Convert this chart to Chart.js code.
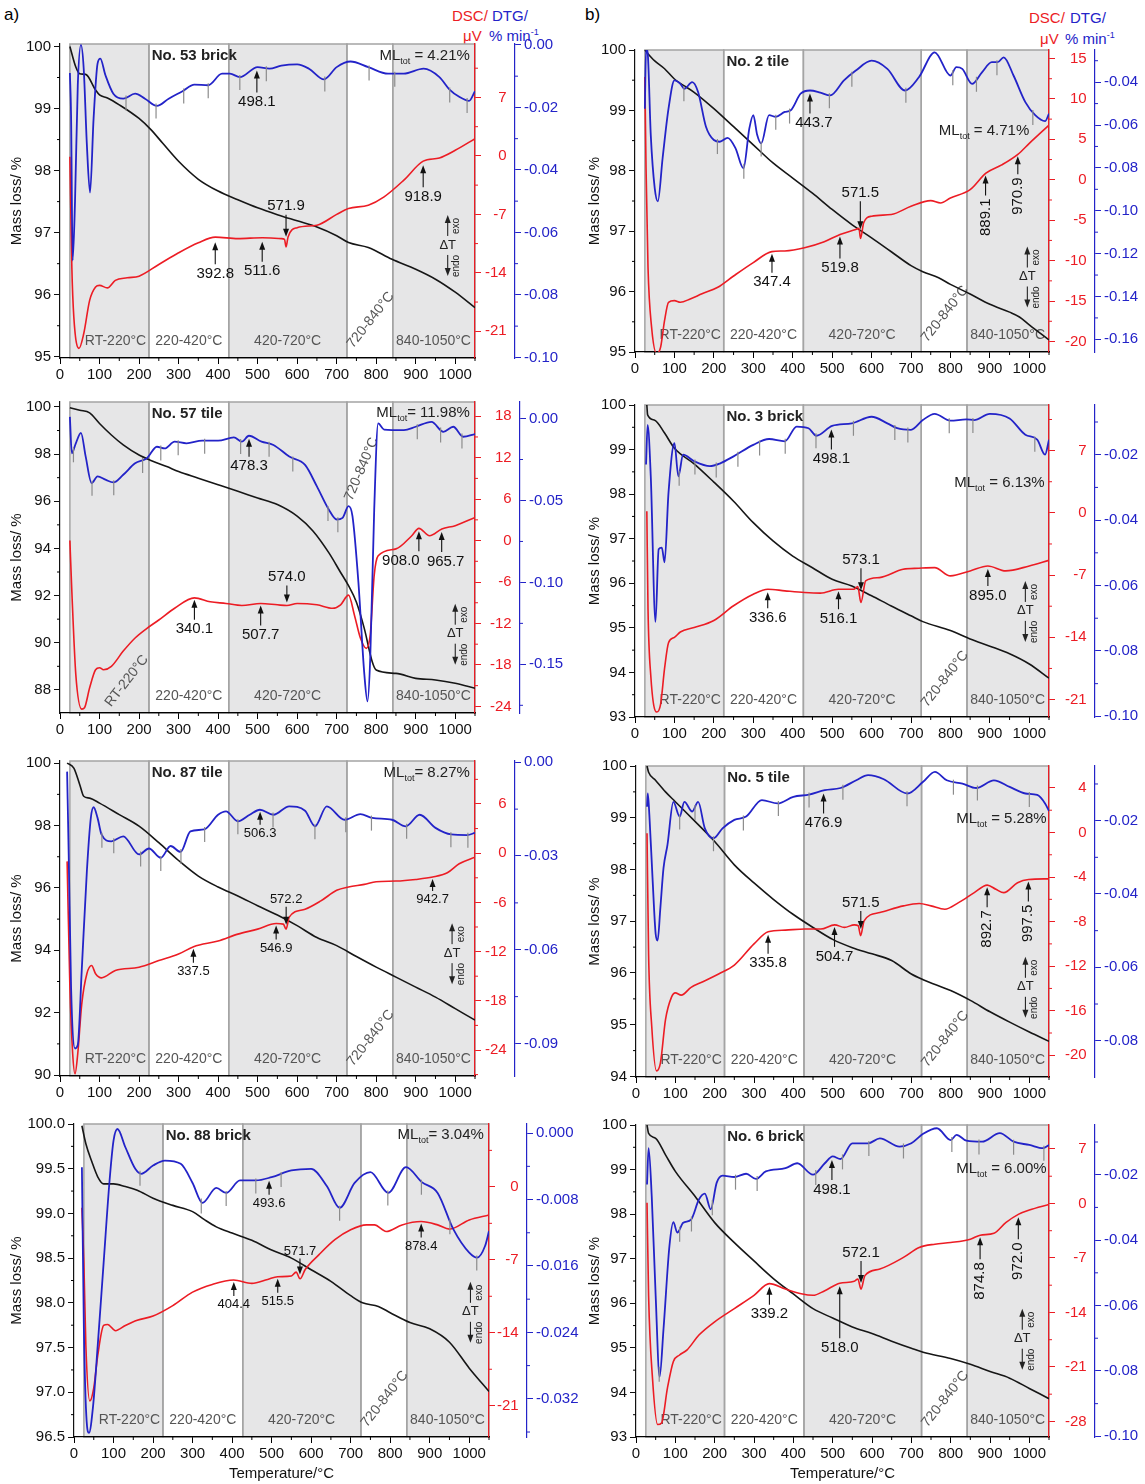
<!DOCTYPE html>
<html>
<head>
<meta charset="utf-8">
<title>TG / DSC / DTG curves</title>
<script src="https://cdn.jsdelivr.net/npm/chart.js@4.4.1/dist/chart.umd.min.js"></script>
<style>
  body { margin: 0; background: #fff; }
  #page { position: relative; width: 1145px; height: 1484px; overflow: hidden; font-family: 'Liberation Sans', Arial, sans-serif; }
  #page canvas { position: absolute; }
  .lbl { position: absolute; font-size: 15px; line-height: 15px; white-space: nowrap; }
  .lbl sup { font-size: 9px; line-height: 0; vertical-align: 6px; }
  .red { color: #ec1c24; }
  .blue { color: #2323c8; }
</style>
</head>
<body>
<div id="page">
  <div class="lbl" style="left:4px;top:6px;font-size:17px;line-height:17px">a)</div>
  <div class="lbl" style="left:585px;top:6px;font-size:17px;line-height:17px">b)</div>
  <div class="lbl red" style="left:452px;top:8px">DSC/</div>
  <div class="lbl blue" style="left:492px;top:8px">DTG/</div>
  <div class="lbl red" style="left:463px;top:28px">μV</div>
  <div class="lbl blue" style="left:489px;top:28px">% min<sup>-1</sup></div>
  <div class="lbl red" style="left:1029px;top:10px">DSC/</div>
  <div class="lbl blue" style="left:1070px;top:10px">DTG/</div>
  <div class="lbl red" style="left:1040px;top:31px">μV</div>
  <div class="lbl blue" style="left:1065px;top:31px">% min<sup>-1</sup></div>
</div>
<script>
// ---- data: temperature (°C) and values ----
// No. 53 brick
const tempMass53 = [25,40,50,65,90,100,120,150,200,230,260,300,350,400,450,500,550,600,650,700,730,780,840,900,950,1000,1050];
const mass53 = [100.0,99.67,99.56,99.55,99.30,99.22,99.17,99.06,98.84,98.66,98.44,98.15,97.86,97.67,97.53,97.40,97.29,97.19,97.09,96.95,96.84,96.76,96.57,96.41,96.25,96.04,95.79];
const tempDsc53 = [25,30,35,48,60,75,90,100,120,140,170,200,250,300,350,393,450,512,560,568,572,577,600,650,700,730,780,820,870,919,960,1000,1050];
const dsc53 = [-0.1,-13.4,-19.3,-23.05,-21.3,-17.3,-15.7,-15.5,-15.8,-14.9,-14.6,-14.4,-13.0,-11.6,-10.4,-9.73,-9.9,-9.8,-9.9,-10.0,-10.9,-9.7,-8.6,-8.3,-7.0,-6.3,-5.9,-4.9,-2.9,-0.63,-0.24,0.67,2.06];
const tempDtg53 = [25,28,32,38,45,53,60,68,76,85,95,102,115,135,160,190,215,245,275,310,340,375,410,430,455,500,530,560,600,630,668,700,735,780,830,870,920,960,985,1010,1035,1050];
const dtg53 = [-0.009,-0.0225,-0.069,-0.050,-0.0129,0,-0.0076,-0.032,-0.0473,-0.0235,-0.006,-0.0044,-0.0097,-0.0156,-0.0172,-0.0156,-0.0172,-0.0195,-0.0172,-0.0148,-0.0127,-0.0129,-0.0092,-0.0092,-0.0103,-0.0071,-0.0076,-0.0066,-0.0062,-0.0076,-0.011,-0.0071,-0.0053,-0.0071,-0.0092,-0.0092,-0.0076,-0.0103,-0.0142,-0.0166,-0.0179,-0.0148];
const marks53 = [167,243,313,375,455,522,670,782,847,986,1030];

// No. 57 tile
const tempMass57 = [25,50,75,100,130,160,200,230,270,300,350,400,450,500,550,600,640,680,710,730,750,770,790,800,850,900,950,1000,1050];
const mass57 = [99.97,99.86,99.75,99.3,98.81,98.39,97.96,97.73,97.47,97.26,96.98,96.70,96.42,96.14,95.86,95.37,94.74,93.82,92.98,92.42,91.72,90.6,89.19,88.84,88.70,88.49,88.42,88.28,88.07];
const tempDsc57 = [25,30,40,55,62,75,90,100,110,130,160,190,220,250,290,340,380,420,460,508,550,574,600,650,690,710,730,745,760,775,785,795,805,850,890,908,935,966,1000,1050];
const dsc57 = [0,-7.4,-19.4,-24.4,-24.2,-21.3,-18.7,-18.4,-18.7,-18.2,-16.0,-14.1,-12.7,-11.5,-9.8,-8.29,-8.86,-9.1,-9.4,-9.1,-9.3,-9.4,-9.1,-9.3,-9.8,-9.3,-7.9,-10.8,-14.1,-15.6,-13.6,-5.0,-2.2,-1.2,0.7,1.77,0.7,1.68,2.16,3.35];
const tempDtg57 = [25,30,40,53,65,80,95,115,135,160,190,220,245,265,290,320,360,400,440,460,478,510,540,580,620,650,680,700,715,730,740,755,770,778,785,795,805,820,870,900,940,970,995,1020,1050];
const dtg57 = [0.001,-0.0212,-0.0151,-0.0087,-0.0232,-0.0394,-0.0353,-0.0373,-0.039,-0.0343,-0.0273,-0.0242,-0.0172,-0.0182,-0.0141,-0.0151,-0.0135,-0.0135,-0.0115,-0.0141,-0.0105,-0.0141,-0.0161,-0.0232,-0.0283,-0.0414,-0.0555,-0.0616,-0.0606,-0.0535,-0.0596,-0.0999,-0.156,-0.1726,-0.146,-0.0555,-0.003,-0.0067,-0.0071,-0.005,-0.002,-0.0081,-0.005,-0.0111,-0.0095];
const marks57 = [34,81,136,209,255,299,366,457,529,589,678,703,904,963,1017];

// No. 87 tile
const tempMass87 = [18,35,50,60,75,100,150,200,250,300,350,400,450,500,550,600,650,700,750,800,850,900,950,1000,1050];
const mass87 = [100.0,99.84,99.31,98.94,98.88,98.72,98.35,97.98,97.45,96.88,96.38,96.03,95.74,95.43,95.13,94.79,94.41,94.15,93.8,93.46,93.14,92.82,92.5,92.13,91.76];
const tempDsc87 = [18,25,32,38,45,55,68,80,90,105,140,200,250,300,338,400,450,500,547,565,572,580,620,660,700,730,770,800,850,900,943,980,1010,1050];
const dsc87 = [-1.0,-16.3,-24.4,-26.9,-24.4,-18.4,-14.7,-13.7,-14.7,-15.2,-14.3,-13.9,-13.1,-12.3,-11.4,-10.7,-9.87,-9.26,-8.57,-8.65,-9.26,-7.8,-6.83,-5.82,-4.53,-4.12,-3.8,-3.48,-3.4,-3.2,-2.91,-2.39,-1.29,-0.49];
const tempDtg87 = [18,22,28,38,45,55,68,78,85,95,105,130,160,200,225,255,280,305,330,365,400,420,450,480,506,540,580,620,645,675,720,760,790,840,875,910,950,990,1030,1050];
const dtg87 = [-0.003,-0.0295,-0.072,-0.0916,-0.0905,-0.0666,-0.0348,-0.0178,-0.0144,-0.0178,-0.0231,-0.0253,-0.0237,-0.0295,-0.0276,-0.0306,-0.0268,-0.0287,-0.0221,-0.0215,-0.0168,-0.0157,-0.0189,-0.0168,-0.0152,-0.0168,-0.0141,-0.0155,-0.0205,-0.0141,-0.0184,-0.0166,-0.0178,-0.0184,-0.0205,-0.0168,-0.021,-0.0231,-0.0233,-0.0226];
const marks87 = [106,136,204,255,306,366,450,539,645,723,788,877,989,1032];

// No. 88 brick
const tempMass88 = [20,30,45,60,75,100,130,160,200,250,300,330,360,400,450,500,550,600,650,700,730,770,800,850,900,950,1000,1050];
const mass88 = [99.98,99.78,99.58,99.41,99.33,99.33,99.30,99.26,99.17,99.09,99.02,98.93,98.85,98.78,98.70,98.59,98.50,98.37,98.24,98.08,98.00,97.96,97.89,97.78,97.71,97.56,97.27,97.01];
const tempDsc88 = [20,25,30,40,50,60,75,85,105,130,160,200,250,300,350,404,450,490,515,550,562,572,585,620,660,700,740,760,790,830,878,920,950,1000,1050];
const dsc88 = [-2.0,-7.3,-15.2,-20.55,-19.3,-16.2,-13.3,-13.2,-13.8,-13.3,-12.8,-12.4,-11.4,-10.1,-9.36,-8.94,-9.26,-8.88,-8.63,-8.56,-8.18,-8.82,-7.93,-6.5,-5.07,-4.12,-3.65,-3.65,-4.28,-3.65,-3.33,-3.65,-4.06,-3.17,-2.7];
const tempDtg88 = [20,25,32,38,48,60,75,90,100,110,130,155,170,200,230,270,300,325,360,385,420,460,500,550,600,640,672,710,750,795,840,880,920,960,1000,1020,1040,1050];
const dtg88 = [-0.0041,-0.0236,-0.0347,-0.0361,-0.033,-0.0256,-0.0156,-0.0057,-0.0009,0.0005,-0.0017,-0.0043,-0.0049,-0.0039,-0.0033,-0.0037,-0.006,-0.0084,-0.0066,-0.0072,-0.0057,-0.0057,-0.0053,-0.0045,-0.0043,-0.0064,-0.009,-0.006,-0.0047,-0.0072,-0.0041,-0.0059,-0.0072,-0.0116,-0.0144,-0.015,-0.0136,-0.0118];
const marks88 = [167,322,385,460,524,672,794,879,951,1019];

// No. 2 tile
const tempMass2 = [25,30,50,75,100,150,200,250,300,350,400,450,500,550,600,650,700,730,770,800,850,900,950,975,1000,1050];
const mass2 = [100.0,99.96,99.82,99.69,99.52,99.30,99.03,98.73,98.43,98.13,97.88,97.63,97.36,97.11,96.89,96.66,96.43,96.33,96.23,96.12,95.96,95.79,95.66,95.58,95.45,95.2];
const tempDsc2 = [25,28,33,42,55,65,75,85,100,115,140,170,210,250,300,347,380,430,480,520,560,568,572,580,600,650,700,750,775,800,850,890,930,971,1000,1050];
const dsc2 = [12.7,1.43,-10.85,-18.2,-21.5,-20.7,-17.4,-15.15,-14.95,-15.15,-14.74,-14.1,-13.3,-11.9,-10.24,-8.89,-8.8,-8.4,-7.66,-6.76,-6.14,-6.0,-7.25,-5.32,-4.5,-4.3,-3.28,-2.58,-2.87,-2.25,-1.23,0.82,1.84,3.15,4.5,6.76];
const tempDtg2 = [25,28,32,40,50,58,70,85,100,115,125,145,160,180,200,215,235,255,275,290,300,310,320,340,357,380,395,420,444,470,495,530,560,600,640,685,720,760,800,815,830,855,880,905,920,935,960,990,1015,1040,1050];
const dtg2 = [-0.0524,-0.0246,-0.0261,-0.0647,-0.0894,-0.0956,-0.0755,-0.0524,-0.0392,-0.0408,-0.0431,-0.04,-0.0446,-0.0608,-0.067,-0.0678,-0.066,-0.0709,-0.0802,-0.0616,-0.0554,-0.0647,-0.0686,-0.0554,-0.0562,-0.0539,-0.0531,-0.0454,-0.0439,-0.0449,-0.0462,-0.0392,-0.0346,-0.03,-0.0338,-0.0439,-0.0377,-0.0261,-0.0369,-0.033,-0.0338,-0.0408,-0.0354,-0.0307,-0.0307,-0.0284,-0.0369,-0.0493,-0.0554,-0.0582,-0.0547];
const marks2 = [124,209,276,320,357,392,493,550,687,806,866,918,1009];

// No. 3 brick
const tempMass3 = [30,32,50,75,100,150,200,250,300,350,400,450,500,550,600,650,700,730,800,850,900,950,1000,1050];
const mass3 = [100.0,99.78,99.66,99.37,99.03,98.68,98.27,97.84,97.36,96.95,96.61,96.35,96.09,95.94,95.72,95.49,95.27,95.14,94.94,94.75,94.59,94.42,94.19,93.87];
const tempDsc3 = [30,33,40,55,65,75,85,100,115,150,200,250,300,337,380,430,470,516,555,565,573,585,620,680,720,760,800,850,895,940,1000,1050];
const dsc3 = [0.19,-10.8,-18.3,-22.4,-21.5,-17.5,-14.6,-14.0,-13.4,-12.9,-12.1,-10.45,-9.15,-8.59,-8.77,-8.96,-9.03,-8.59,-8.59,-8.29,-10.08,-7.65,-7.28,-6.35,-6.23,-6.16,-7.09,-6.53,-5.97,-6.53,-5.97,-5.34];
const tempDtg3 = [28,32,40,52,60,68,75,85,100,110,122,150,190,215,250,300,340,380,410,440,460,500,550,600,640,665,700,730,760,800,840,860,900,950,990,1020,1040,1050];
const dtg3 = [-0.023,-0.0109,-0.0266,-0.0711,-0.0489,-0.0484,-0.0529,-0.0316,-0.0165,-0.0266,-0.02,-0.022,-0.0235,-0.0227,-0.0205,-0.017,-0.0152,-0.0159,-0.0114,-0.0119,-0.0142,-0.0112,-0.0104,-0.0084,-0.0104,-0.0119,-0.0124,-0.0094,-0.0075,-0.0096,-0.0092,-0.0094,-0.0075,-0.0089,-0.0139,-0.0154,-0.02,-0.0154];
const marks3 = [112,152,206,261,316,381,459,554,659,692,797,857,1014];

// No. 5 tile
const tempMass5 = [28,32,50,75,100,150,200,250,300,350,400,450,500,550,600,650,700,730,800,850,900,950,1000,1050];
const mass5 = [100.0,99.88,99.72,99.5,99.31,98.93,98.54,98.09,97.74,97.42,97.13,96.88,96.65,96.49,96.37,96.24,95.98,95.87,95.66,95.47,95.25,95.05,94.86,94.68];
const tempDsc5 = [28,32,40,52,62,75,90,100,115,140,170,210,250,300,336,380,430,470,505,530,555,565,571,580,620,680,720,750,785,820,860,893,915,935,970,998,1050];
const dsc5 = [-0.06,-10.9,-17.4,-21.4,-20.7,-16.8,-14.8,-14.4,-14.6,-13.9,-13.4,-12.7,-11.9,-10.0,-8.91,-8.76,-8.67,-8.67,-8.29,-8.52,-8.29,-8.37,-9.27,-7.93,-7.19,-6.59,-6.38,-6.59,-6.89,-6.3,-5.4,-4.72,-5.1,-5.4,-4.51,-4.22,-4.16];
const tempDtg5 = [28,30,34,42,50,55,62,70,80,95,111,123,143,158,175,197,220,250,280,320,360,400,440,480,520,560,590,630,690,730,760,790,830,865,910,950,990,1020,1040,1050];
const dtg5 = [-0.0162,-0.0126,-0.0185,-0.0356,-0.0509,-0.0527,-0.0437,-0.0329,-0.0266,-0.0149,-0.0189,-0.0149,-0.0175,-0.0149,-0.0221,-0.0248,-0.0221,-0.0198,-0.0189,-0.0144,-0.0153,-0.0135,-0.0129,-0.0117,-0.0111,-0.009,-0.0076,-0.0087,-0.0126,-0.0094,-0.0067,-0.009,-0.0099,-0.0111,-0.009,-0.0108,-0.0126,-0.013,-0.0153,-0.0174];
const marks5 = [111,150,197,273,362,440,526,689,807,868,1000];

// No. 6 brick
const tempMass6 = [28,32,50,75,100,150,200,250,300,350,400,450,500,550,600,650,700,730,800,850,900,950,1000,1050];
const mass6 = [100.0,99.81,99.70,99.33,98.96,98.40,97.81,97.36,96.95,96.55,96.21,95.88,95.67,95.47,95.32,95.15,94.99,94.90,94.76,94.63,94.47,94.32,94.09,93.86];
const tempDsc6 = [28,32,42,55,65,80,95,110,130,160,200,250,300,339,380,420,450,480,518,555,564,572,582,620,680,720,760,800,850,875,910,940,972,1000,1050];
const dsc6 = [0.09,-11.8,-22.5,-28.4,-28.2,-23.7,-20.3,-19.5,-18.8,-16.9,-15.2,-13.5,-11.8,-10.3,-11.0,-11.6,-11.8,-11.2,-10.25,-10.0,-9.7,-11.0,-9.27,-8.42,-6.93,-5.66,-5.23,-5.02,-4.59,-4.08,-3.83,-2.47,-1.4,-0.85,-0.13];
const tempDtg6 = [28,32,40,50,60,70,85,95,105,120,140,160,175,190,205,220,250,280,305,330,380,410,450,480,500,520,550,590,620,670,700,730,765,800,815,840,880,925,960,1000,1035,1050];
const dtg6 = [-0.023,-0.0119,-0.0266,-0.057,-0.0818,-0.0671,-0.0418,-0.0345,-0.0377,-0.0347,-0.0337,-0.0276,-0.0258,-0.0306,-0.0225,-0.0203,-0.0207,-0.0197,-0.0213,-0.019,-0.018,-0.0165,-0.02,-0.0165,-0.0144,-0.0152,-0.0104,-0.0104,-0.0089,-0.0114,-0.0104,-0.0075,-0.0058,-0.0094,-0.0078,-0.0096,-0.0099,-0.0073,-0.0099,-0.0109,-0.0119,-0.0109];
const marks6 = [59,111,141,194,253,308,457,525,592,680,803,872,960,1037];

// temperature segments shaded on every panel
const bandEdges = [25, 225, 427, 726, 842, 1050];
const bandNames = ['RT-220°C', '220-420°C', '420-720°C', '720-840°C', '840-1050°C'];

// ---- drawing ----
const FONT = "'Liberation Sans', Arial, sans-serif";
const BLACK = '#161616', RED = '#ec1c24', BLUE = '#2323c8';
Chart.defaults.font.family = FONT;
Chart.defaults.font.size = 15;

// default spot of each segment label: [°C, px from bottom (neg = from top), rotation, align]
const bandPos = [[218, 17, 0, 'right'], [326, 17, 0, 'center'], [576, 17, 0, 'center'], [786, 38, -52, 'center'], [945, 17, 0, 'center']];

// peak marks: [°C, curve (g = DTG, d = DSC), arrow side, gap px, length px, rotated label, label shift px]
const panels = [
  { sample: 'No. 53 brick', ml: ' = 4.21%', mlT: 1037, mlY: 12, cx: 0, cw: 580, area: [60, 42, 475, 358], redW: 40, titlePad: 8,
    yMass: [94.98, 100.04, 1, 0.5, 0], yDsc: [-24.2, 13.4, 7, 3.5, 0], yDtg: [-0.1002, 0.0003, 0.02, 0.01, 2],
    mass: [tempMass53, mass53], dsc: [tempDsc53, dsc53], dtg: [tempDtg53, dtg53], marks: marks53, fs: 15, dT: [981, 0.64],
    peaks: [[498.1, 'g', 'up', 3, 22], [392.8, 'd', 'up', 5, 22], [511.6, 'd', 'up', 4, 20], [571.9, 'd', 'down', 10, 22], [918.9, 'd', 'up', 4, 22]] },
  { sample: 'No. 57 tile', ml: '= 11.98%', mlT: 1037, mlY: 11, cx: 0, cw: 580, area: [60, 400, 475, 713], redW: 45, titlePad: 8,
    yMass: [87.02, 100.21, 2, 1, 0], yDsc: [-24.96, 20.06, 6, 3, 0], yDtg: [-0.1797, 0.0101, 0.05, 0.025, 2],
    mass: [tempMass57, mass57], dsc: [tempDsc57, dsc57], dtg: [tempDtg57, dtg57], marks: marks57, fs: 15, dT: [1000, 0.745],
    bandPos: { 0: [169, 32, -52, 'center'], 3: [763, -67, -67, 'center'] },
    peaks: [[478.3, 'g', 'up', 3, 18], [340.1, 'd', 'up', 2, 20], [507.7, 'd', 'up', 2, 20], [574.0, 'd', 'down', 3, 17], [908.0, 'd', 'up', 3, 20, false, -18], [965.7, 'd', 'up', 3, 20, false, 4]] },
  { sample: 'No. 87 tile', ml: '= 8.27%', mlT: 1037, mlY: 12, cx: 0, cw: 580, area: [60, 759, 475, 1076], redW: 40, titlePad: 8,
    yMass: [89.97, 100.07, 2, 1, 0], yDsc: [-27.17, 11.24, 6, 3, 0], yDtg: [-0.1004, 0.0004, 0.03, 0.015, 2],
    mass: [tempMass87, mass87], dsc: [tempDsc87, dsc87], dtg: [tempDtg87, dtg87], marks: marks87, fs: 13, dT: [992, 0.61],
    peaks: [[506.3, 'g', 'up', 2, 13], [337.5, 'd', 'up', 2, 14], [546.9, 'd', 'up', 2, 14], [572.2, 'd', 'down', 4, 18], [942.7, 'd', 'up', 2, 12]] },
  { sample: 'No. 88 brick', ml: '= 3.04%', mlT: 1037, mlY: 11, cx: 0, cw: 590, area: [74, 1122, 489, 1437], redW: 38, titlePad: 8, xTitle: true,
    yMass: [96.5, 100.0, 0.5, 0.25, 1], yDsc: [-24.0, 6.03, 7, 3.5, 0], yDtg: [-0.0366, 0.0011, 0.008, 0.004, 3],
    mass: [tempMass88, mass88], dsc: [tempDsc88, dsc88], dtg: [tempDtg88, dtg88], marks: marks88, fs: 13, dT: [1003, 0.60],
    peaks: [[493.6, 'g', 'up', 3, 14], [404.4, 'd', 'up', 2, 14], [515.5, 'd', 'up', 2, 14], [571.7, 'd', 'down', 4, 16], [878.4, 'd', 'up', 2, 14]] },
  { sample: 'No. 2 tile', ml: ' = 4.71%', mlT: 1000, mlY: 81, cx: 575, cw: 570, area: [635, 48, 1049, 352], redW: 46, titlePad: 11,
    yMass: [95, 100, 1, 0.5, 0], yDsc: [-21.3, 16.05, 5, 2.5, 0], yDtg: [-0.1659, -0.025, 0.02, 0.01, 2],
    mass: [tempMass2, mass2], dsc: [tempDsc2, dsc2], dtg: [tempDtg2, dtg2], marks: marks2, fs: 15, dT: [995, 0.75],
    peaks: [[443.7, 'g', 'up', 3, 20, false, 4], [347.4, 'd', 'up', 2, 19], [519.8, 'd', 'up', 2, 22], [571.5, 'd', 'down', 8, 28], [889.1, 'd', 'up', 2, 20, true], [970.9, 'd', 'up', 2, 18, true]] },
  { sample: 'No. 3 brick', ml: ' = 6.13%', mlT: 1039, mlY: 78, cx: 575, cw: 570, area: [635, 403, 1049, 717], redW: 46, titlePad: 11,
    yMass: [93, 100, 1, 0.5, 0], yDsc: [-22.96, 12.13, 7, 3.5, 0], yDtg: [-0.1002, -0.0048, 0.02, 0.01, 2],
    mass: [tempMass3, mass3], dsc: [tempDsc3, dsc3], dtg: [tempDtg3, dtg3], marks: marks3, fs: 15, dT: [990, 0.66],
    peaks: [[498.1, 'g', 'up', 3, 20], [336.6, 'd', 'up', 3, 16], [516.1, 'd', 'up', 2, 18], [573.1, 'd', 'down', 12, 22], [895.0, 'd', 'up', 3, 17]] },
  { sample: 'No. 5 tile', ml: ' = 5.28%', mlT: 1044, mlY: 53, cx: 575, cw: 570, area: [636, 764, 1049, 1077], redW: 46, titlePad: 11,
    yMass: [93.99, 100, 1, 0.5, 0], yDsc: [-21.95, 5.97, 4, 2, 0], yDtg: [-0.0899, -0.0051, 0.02, 0.01, 2],
    mass: [tempMass5, mass5], dsc: [tempDsc5, dsc5], dtg: [tempDtg5, dtg5], marks: marks5, fs: 15, dT: [990, 0.71],
    peaks: [[476.9, 'g', 'up', 3, 20], [335.8, 'd', 'up', 3, 19], [504.7, 'd', 'up', 2, 20], [571.5, 'd', 'down', 6, 18], [892.7, 'd', 'up', 2, 20, true], [997.5, 'd', 'up', 2, 20, true]] },
  { sample: 'No. 6 brick', ml: ' = 6.00%', mlT: 1044, mlY: 44, cx: 575, cw: 570, area: [636, 1123, 1049, 1437], redW: 46, titlePad: 11, xTitle: true,
    yMass: [93, 100, 1, 0.5, 0], yDsc: [-30, 10.08, 7, 3.5, 0], yDtg: [-0.1002, -0.0048, 0.02, 0.01, 2],
    mass: [tempMass6, mass6], dsc: [tempDsc6, dsc6], dtg: [tempDtg6, dtg6], marks: marks6, fs: 15, dT: [982, 0.685],
    peaks: [[498.1, 'g', 'up', 3, 20], [339.2, 'd', 'up', 3, 18], [518.0, 'd', 'up', 3, 52], [572.1, 'd', 'down', 6, 22], [874.8, 'd', 'up', 2, 22, true], [972.0, 'd', 'up', 3, 22, true]] }
];

function interp(ts, vs, t) {
  for (let i = 1; i < ts.length; i++) {
    if (t <= ts[i]) {
      const f = (t - ts[i - 1]) / (ts[i] - ts[i - 1]);
      return vs[i - 1] + f * (vs[i] - vs[i - 1]);
    }
  }
  return vs[vs.length - 1];
}

const toPoints = (ts, vs) => ts.map((t, i) => ({ x: t, y: vs[i] }));
const isMajor = (v, step) => Math.abs(v / step - Math.round(v / step)) < 1e-6;
const fmt = (v, dec) => (Math.abs(v) < 1e-9 ? 0 : v).toFixed(dec);

function arrow(ctx, x, yTail, yTip) {
  const d = Math.sign(yTip - yTail);
  ctx.beginPath();
  ctx.moveTo(x, yTail);
  ctx.lineTo(x, yTip - d * 6);
  ctx.stroke();
  ctx.beginPath();
  ctx.moveTo(x, yTip);
  ctx.lineTo(x - 3, yTip - d * 8);
  ctx.lineTo(x + 3, yTip - d * 8);
  ctx.closePath();
  ctx.fill();
}

function drawBands(chart, p) {
  const { ctx, chartArea: a } = chart;
  const xs = chart.scales.x;
  ctx.save();
  for (let i = 0; i < bandEdges.length - 1; i++) {
    const x0 = xs.getPixelForValue(bandEdges[i]), x1 = xs.getPixelForValue(bandEdges[i + 1]);
    if (i % 2 === 0) {
      ctx.fillStyle = '#e6e6e7';
      ctx.fillRect(x0, a.top, x1 - x0, a.bottom - a.top);
    }
  }
  ctx.strokeStyle = '#a4a4a4';
  ctx.lineWidth = 1.5;
  for (let i = 0; i < bandEdges.length - 1; i++) {
    const x0 = xs.getPixelForValue(bandEdges[i]), x1 = xs.getPixelForValue(bandEdges[i + 1]);
    ctx.strokeRect(x0, a.top, x1 - x0, a.bottom - a.top);
  }
  ctx.font = '14px ' + FONT;
  ctx.fillStyle = '#555';
  ctx.textBaseline = 'middle';
  bandNames.forEach((txt, i) => {
    const [t, dy, rot, align] = (p.bandPos && p.bandPos[i]) || bandPos[i];
    const y = dy >= 0 ? a.bottom - dy : a.top - dy;
    ctx.save();
    ctx.translate(xs.getPixelForValue(t), y);
    ctx.rotate(rot * Math.PI / 180);
    ctx.textAlign = align;
    ctx.fillText(txt, 0, 0);
    ctx.restore();
  });
  ctx.restore();
}

// short minor ticks (the library draws the long major ones)
function drawMinorTicks(chart, p) {
  const { ctx, chartArea: a, scales } = chart;
  const specs = [
    ['x', 100, '#000', (v) => [v, a.bottom, v, a.bottom + 3]],
    ['y', p.yMass[2], '#000', (v) => [a.left, v, a.left - 3, v]],
    ['yR', p.yDsc[2], RED, (v) => [scales.yR.left, v, scales.yR.left + 3, v]],
    ['yB', p.yDtg[2], BLUE, (v) => [scales.yB.left, v, scales.yB.left + 3, v]]
  ];
  ctx.save();
  ctx.lineWidth = 1;
  specs.forEach(([id, major, color, seg]) => {
    const sc = scales[id];
    ctx.strokeStyle = color;
    sc.ticks.forEach(tk => {
      if (isMajor(tk.value, major)) return;
      const [x0, y0, x1, y1] = seg(sc.getPixelForValue(tk.value));
      ctx.beginPath();
      ctx.moveTo(x0, y0);
      ctx.lineTo(x1, y1);
      ctx.stroke();
    });
  });
  ctx.restore();
}

function drawNotes(chart, p) {
  const { ctx, chartArea: a } = chart;
  const xs = chart.scales.x, yR = chart.scales.yR, yB = chart.scales.yB;
  ctx.save();

  // DTG step marks
  ctx.strokeStyle = '#8c8c8c';
  ctx.lineWidth = 1.2;
  p.marks.forEach(t => {
    const x = xs.getPixelForValue(t), y = yB.getPixelForValue(interp(p.dtg[0], p.dtg[1], t));
    ctx.beginPath();
    ctx.moveTo(x, y - 2);
    ctx.lineTo(x, y + 13);
    ctx.stroke();
  });

  // peak arrows and temperatures
  ctx.strokeStyle = ctx.fillStyle = '#111';
  ctx.lineWidth = 1.1;
  ctx.font = p.fs + 'px ' + FONT;
  p.peaks.forEach(([t, s, dir, gap, len, rot, dx]) => {
    const curve = s === 'g' ? p.dtg : p.dsc, sc = s === 'g' ? yB : yR;
    const x = xs.getPixelForValue(t), yc = sc.getPixelForValue(interp(curve[0], curve[1], t));
    const tx = x + (dx || 0);
    const txt = t.toFixed(1);
    if (dir === 'up') {
      const tip = yc + gap, tail = tip + len;
      arrow(ctx, x, tail, tip);
      if (rot) {
        ctx.save();
        ctx.translate(tx, tail + 3);
        ctx.rotate(-Math.PI / 2);
        ctx.textAlign = 'right';
        ctx.textBaseline = 'middle';
        ctx.fillText(txt, 0, 0);
        ctx.restore();
      } else {
        ctx.textAlign = 'center';
        ctx.textBaseline = 'top';
        ctx.fillText(txt, tx, tail + 2);
      }
    } else {
      const tip = yc - gap, tail = tip - len;
      arrow(ctx, x, tail, tip);
      ctx.textAlign = 'center';
      ctx.textBaseline = 'bottom';
      ctx.fillText(txt, tx, tail - 1);
    }
  });

  // sample name
  ctx.font = 'bold 15px ' + FONT;
  ctx.textAlign = 'left';
  ctx.textBaseline = 'middle';
  ctx.fillStyle = '#222';
  ctx.fillText(p.sample, xs.getPixelForValue(232), a.top + 12);

  // total mass loss with subscript
  const big = '15px ' + FONT, small = '9px ' + FONT;
  ctx.font = big;
  const w1 = ctx.measureText('ML').width, w3 = ctx.measureText(p.ml).width;
  ctx.font = small;
  const w2 = ctx.measureText('tot').width;
  let x = xs.getPixelForValue(p.mlT) - w1 - w2 - w3;
  const y = a.top + p.mlY;
  ctx.font = big; ctx.fillText('ML', x, y); x += w1;
  ctx.font = small; ctx.fillText('tot', x, y + 6); x += w2;
  ctx.font = big; ctx.fillText(p.ml, x, y);

  // exo / endo indicator
  const x0 = xs.getPixelForValue(p.dT[0]), y0 = a.top + p.dT[1] * (a.bottom - a.top);
  ctx.lineWidth = 1;
  arrow(ctx, x0, y0 - 9, y0 - 30);
  arrow(ctx, x0, y0 + 10, y0 + 31);
  ctx.font = '13px ' + FONT;
  ctx.textAlign = 'center';
  ctx.fillText('ΔT', x0, y0);
  ctx.font = '10px ' + FONT;
  [['exo', y0 - 19], ['endo', y0 + 21]].forEach(([w, yy]) => {
    ctx.save();
    ctx.translate(x0 + 9, yy);
    ctx.rotate(-Math.PI / 2);
    ctx.fillText(w, 0, 0);
    ctx.restore();
  });
  ctx.restore();
}

function yAxis(pos, range, width, color, weight, extra) {
  const [min, max, major, minor, dec] = range;
  const far = pos === 'right' && weight === 0;
  return Object.assign({
    type: 'linear', position: pos, min, max, weight,
    afterFit: s => { s.width = width; },
    border: { color, width: 1.2 },
    grid: {
      drawOnChartArea: false, tickLength: 6,
      tickColor: c => (c.tick && isMajor(c.tick.value, major)) ? color : 'rgba(0,0,0,0)'
    },
    ticks: {
      stepSize: minor, autoSkip: false, includeBounds: false, color, padding: 3,
      crossAlign: far ? 'far' : 'near',
      callback: v => isMajor(v, major) ? fmt(v, dec) + (far ? '  ' : '') : ''
    }
  }, extra || {});
}

const page = document.getElementById('page');

panels.forEach(p => {
  const [l, t, r, b] = p.area;
  const padTop = 10, xH = p.xTitle ? 50 : 24;
  const h = padTop + (b - t) + xH;
  const cv = document.createElement('canvas');
  cv.width = p.cw;
  cv.height = h;
  cv.style.left = p.cx + 'px';
  cv.style.top = (t - padTop) + 'px';
  cv.style.width = p.cw + 'px';
  cv.style.height = h + 'px';
  page.appendChild(cv);

  const blueW = p.cw - (r - p.cx) - p.redW;
  new Chart(cv, {
    type: 'line',
    data: {
      datasets: [
        { data: toPoints(p.dtg[0], p.dtg[1]), yAxisID: 'yB', borderColor: BLUE, borderWidth: 1.8 },
        { data: toPoints(p.dsc[0], p.dsc[1]), yAxisID: 'yR', borderColor: RED, borderWidth: 1.6 },
        { data: toPoints(p.mass[0], p.mass[1]), yAxisID: 'y', borderColor: BLACK, borderWidth: 1.6 }
      ]
    },
    options: {
      responsive: false,
      animation: false,
      devicePixelRatio: 1,
      events: [],
      layout: { padding: { top: padTop, left: 0, right: 0, bottom: 0 } },
      elements: { point: { radius: 0 }, line: { cubicInterpolationMode: 'monotone', fill: false } },
      plugins: { legend: { display: false }, tooltip: { enabled: false } },
      scales: {
        x: {
          type: 'linear', min: 0, max: 1050,
          afterFit: s => { s.height = xH; },
          border: { color: '#000', width: 1.2 },
          grid: {
            drawOnChartArea: false, tickLength: 6,
            tickColor: c => (c.tick && c.tick.value % 100 === 0) ? '#000' : 'rgba(0,0,0,0)'
          },
          ticks: {
            stepSize: 50, autoSkip: false, includeBounds: false, maxRotation: 0, minRotation: 0,
            color: '#111', padding: 2,
            callback: v => (v % 100 === 0 && v <= 1000) ? String(v) : ''
          },
          title: { display: !!p.xTitle, text: 'Temperature/°C', color: '#111', padding: { top: 2, bottom: 4 } }
        },
        y: yAxis('left', p.yMass, l - p.cx, '#111', 0, {
          title: { display: true, text: 'Mass loss/ %', color: '#111', padding: { top: p.titlePad, bottom: 0 } }
        }),
        yR: yAxis('right', p.yDsc, p.redW, RED, 0),
        yB: yAxis('right', p.yDtg, blueW, BLUE, 1)
      }
    },
    plugins: [{
      id: 'decor',
      beforeDraw: chart => drawBands(chart, p),
      afterDatasetsDraw: chart => drawNotes(chart, p),
      afterDraw: chart => drawMinorTicks(chart, p)
    }]
  });
});
</script>
</body>
</html>
